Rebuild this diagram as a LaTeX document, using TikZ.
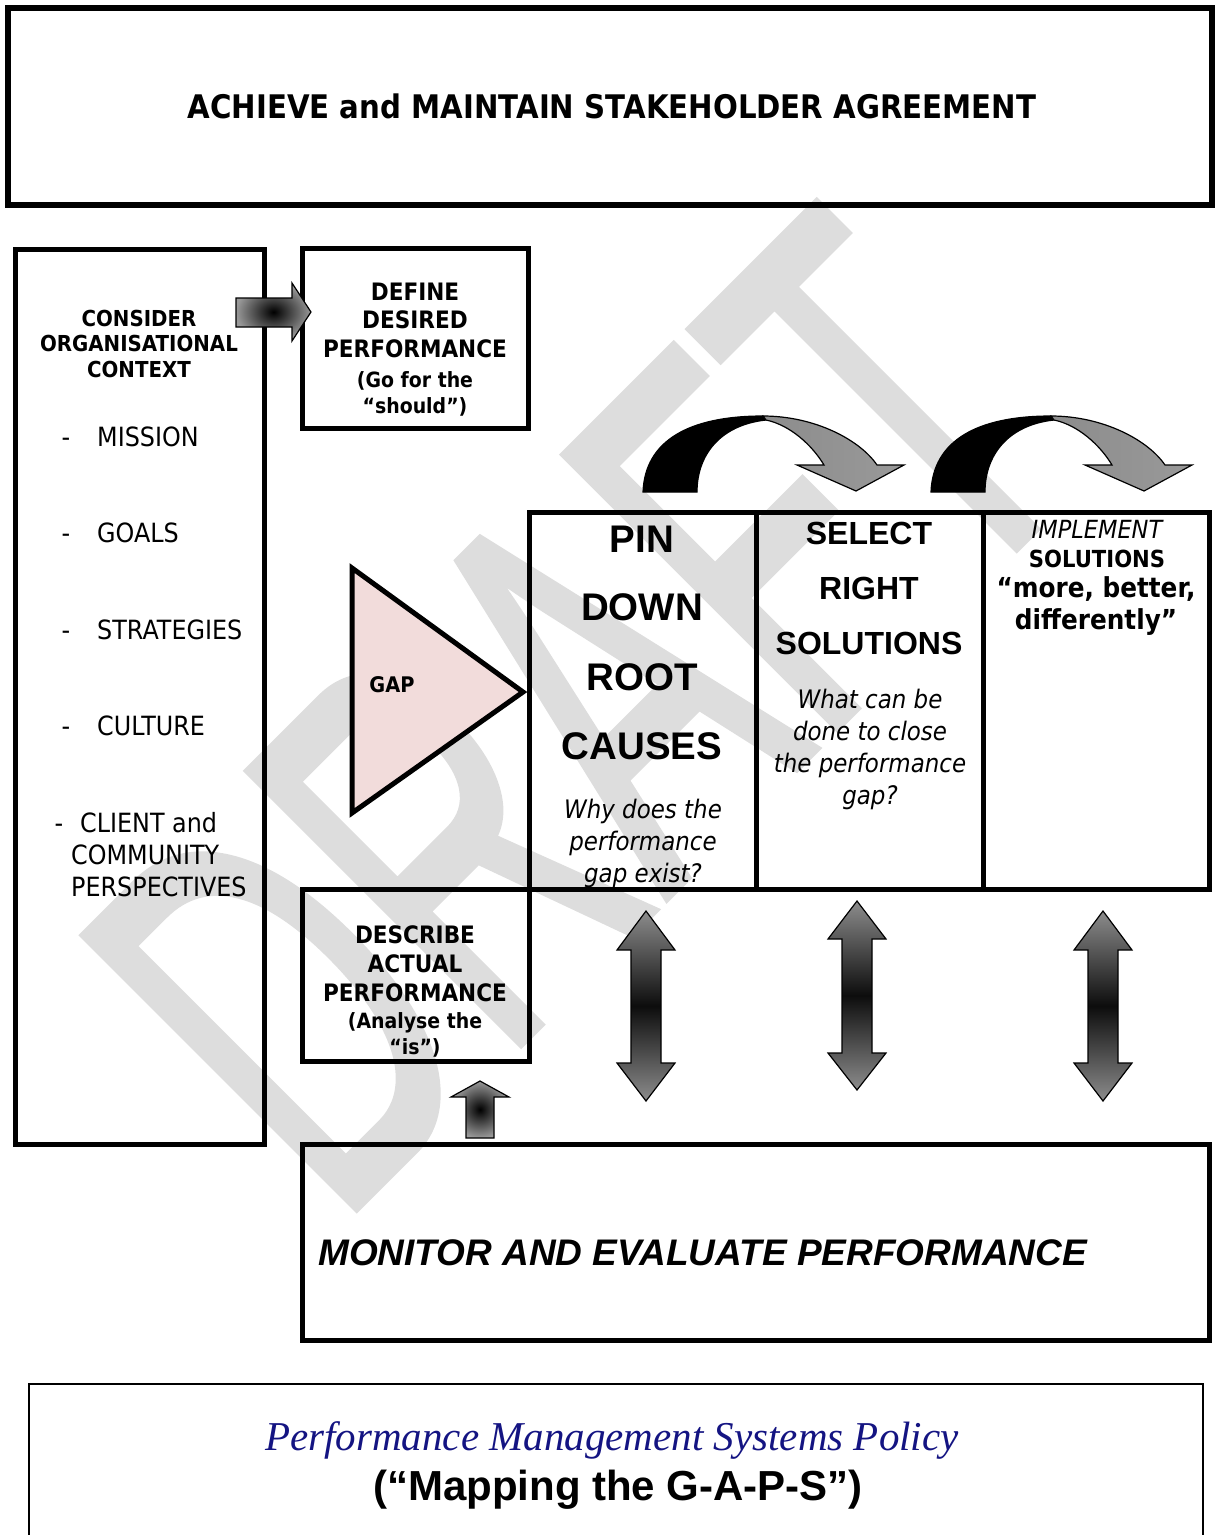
\documentclass[tikz,border=0pt]{standalone}
\usepackage{graphicx}
\usepackage{fontspec}
\usetikzlibrary{fit}
\newfontfamily\tah[FakeStretch=0.9]{DejaVu Sans}
\newfontfamily\ari{Liberation Sans}
\newfontfamily\wmfont[FakeBold=1.5]{Liberation Sans}
\newfontfamily\ser{Liberation Serif}
\definecolor{gappink}{RGB}{242,220,219}
\definecolor{navyt}{RGB}{20,20,130}
\definecolor{wmgray}{RGB}{221,221,221}
\newcommand{\fsz}[2]{\fontsize{#1}{#2}\selectfont}
\newcommand{\dblarrow}[5]{%
  \draw[dshade] (#1,#2) -- (#1+29,#3) -- (#1+15,#3) -- (#1+15,#4) -- (#1+29,#4)
     -- (#1,#5) -- (#1-29,#4) -- (#1-15,#4) -- (#1-15,#3) -- (#1-29,#3) -- cycle;}
\begin{document}
\begin{tikzpicture}[x=1pt,y=-1pt,
  box/.style={draw, line width=5pt, inner sep=0pt, fill=none},
  ln/.style={inner sep=0pt, anchor=base},
  lnw/.style={inner sep=0pt, anchor=base west},
  tb/.style={font=\tah\bfseries\fsz{#1}{#1}},
  tr/.style={font=\tah\fsz{#1}{#1}},
  ti/.style={font=\tah\itshape\fsz{#1}{#1}},
  ab/.style={font=\ari\bfseries\fsz{#1}{#1}},
  dshade/.style={draw=black, line width=1.2pt, top color=black!45, bottom color=black!45, middle color=black!95},
  rshade/.style={draw=black, line width=1.2pt, inner color=black, outer color=black!40},
]
\useasboundingbox (0,0) rectangle (1215,1535);

% watermark
\node[inner sep=0pt, rotate=45, text=wmgray, font=\wmfont\fsz{560}{600}] (wm) at (580,712) {\scalebox{0.575}[1]{DRAFT}};

% boxes
\node[box, line width=5.5pt, fit={(8,8) (1212,205)}] (top) {};
\node[box, fit={(15,249) (264,1144)}] (ctx) {};
\node[box, fit={(302,248) (528,428)}] (def) {};
\node[box, fit={(529.5,512) (756,889.5)}] (pin) {};
\node[box, fit={(756,512) (983,889.5)}] (sel) {};
\node[box, fit={(983,512) (1209.5,889.5)}] (imp) {};
\node[box, fit={(302.5,889.5) (529.5,1061)}] (des) {};
\node[box, fit={(302.5,1144.5) (1209.5,1340)}] (mon) {};
\node[draw, line width=2pt, inner sep=0pt, fit={(29,1384) (1203,1560)}] (pol) {};

% gap triangle
\draw[line width=5pt, fill=gappink, line join=miter] (352,568) coordinate (g1) -- (523,692) coordinate (g2) -- (352,813) coordinate (g3) -- cycle;
\node[ln, tb=21.5] (gap) at (392,692.5) {GAP};

% arrows
\draw[rshade] (236,298) -- (292,298) -- (292,283) -- (311,312) -- (292,341) -- (292,327) -- (236,327) -- cycle;
\draw[rshade] (480,1081) -- (509,1097) -- (494,1097) -- (494,1138) -- (466,1138) -- (466,1097) -- (451,1097) -- cycle;
\dblarrow{646}{911}{950}{1063}{1101}
\dblarrow{857}{901}{939}{1053}{1090}
\dblarrow{1103}{911}{950}{1063}{1101}

\foreach \dx in {0,288}{
  \begin{scope}[xshift=\dx]
    \draw[line width=1.2pt, fill=black] (643,492) .. controls (645,440) and (690,416) .. (763,416)
      -- (766,420) .. controls (720,425) and (697,455) .. (697,492) -- cycle;
    \draw[line width=1.2pt, left color=black!45, middle color=black!85, right color=black!40]
      (763,416) .. controls (815,416) and (860,440) .. (877,465) -- (904,465) -- (856,491)
      -- (797,465) -- (824,465) .. controls (812,445) and (790,425) .. (766,420) -- cycle;
  \end{scope}
}

% title
\node[ln, tb=32.5] (ttl) at (612,118.5) {ACHIEVE and MAINTAIN STAKEHOLDER AGREEMENT};

% context
\node[ln, tb=22] (c1) at (139,326) {CONSIDER};
\node[ln, tb=22] (c2) at (139,351.5) {ORGANISATIONAL};
\node[ln, tb=22] (c3) at (139,377) {CONTEXT};
\node[ln, tr=26.5] (d1) at (66,446.5) {-};
\node[lnw, tr=26.5] (m1) at (97,446.5) {MISSION};
\node[ln, tr=26.5] (d2) at (66,542.5) {-};
\node[lnw, tr=26.5] (m2) at (97,542.5) {GOALS};
\node[ln, tr=26.5] (d3) at (66,639.5) {-};
\node[lnw, tr=26.5] (m3) at (97,639.5) {STRATEGIES};
\node[ln, tr=26.5] (d4) at (66,735.5) {-};
\node[lnw, tr=26.5] (m4) at (97,735.5) {CULTURE};
\node[ln, tr=26.5] (d5) at (59,832.5) {-};
\node[lnw, tr=26.5] (m5) at (80,832.5) {CLIENT and};
\node[lnw, tr=26.5] (m6) at (71,864.5) {COMMUNITY};
\node[lnw, tr=26.5] (m7) at (71,896.5) {PERSPECTIVES};

% define
\node[ln, tb=24] (e1) at (415,300) {DEFINE};
\node[ln, tb=24] (e2) at (415,328.5) {DESIRED};
\node[ln, tb=24] (e3) at (415,357) {PERFORMANCE};
\node[ln, tb=21] (e4) at (415,387) {(Go for the};
\node[ln, tb=21] (e5) at (415,413) {“should”)};

% describe
\node[ln, tb=24] (f1) at (415,943) {DESCRIBE};
\node[ln, tb=24] (f2) at (415,972) {ACTUAL};
\node[ln, tb=24] (f3) at (415,1001.5) {PERFORMANCE};
\node[ln, tb=21] (f4) at (415,1028) {(Analyse the};
\node[ln, tb=21] (f5) at (415,1054) {“is”)};

% pin down
\node[ln, ab=38.5] (p1) at (642,552) {PIN};
\node[ln, ab=38.5] (p2) at (642,620) {DOWN};
\node[ln, ab=38.5] (p3) at (642,690) {ROOT};
\node[ln, ab=38.5] (p4) at (642,759) {CAUSES};
\node[ln, ti=25.5] (p5) at (643,818) {Why does the};
\node[ln, ti=25.5] (p6) at (643,850) {performance};
\node[ln, ti=25.5] (p7) at (643,882) {gap exist?};

% select
\node[ln, ab=32] (s1) at (869,544.5) {SELECT};
\node[ln, ab=32] (s2) at (869,599.5) {RIGHT};
\node[ln, ab=32] (s3) at (869,654.5) {SOLUTIONS};
\node[ln, ti=25.5] (s4) at (870,708) {What can be};
\node[ln, ti=25.5] (s5) at (870,740) {done to close};
\node[ln, ti=25.5] (s6) at (870,772) {the performance};
\node[ln, ti=25.5] (s7) at (870,804) {gap?};

% implement
\node[ln, ti=25] (i1) at (1097,538) {IMPLEMENT};
\node[ln, tb=23.5] (i2) at (1097,567) {SOLUTIONS};
\node[ln, tb=27.5] (i3) at (1096,597) {“more, better,};
\node[ln, tb=27.5] (i4) at (1096,629) {differently”};

% monitor
\node[lnw, font=\ari\bfseries\itshape\fsz{37}{37}] (mt) at (318,1265) {MONITOR AND EVALUATE PERFORMANCE};

% policy
\node[ln, text=navyt, font=\ser\itshape\fsz{41}{41}] (pt1) at (612,1450) {Performance Management Systems Policy};
\node[ln, ab=42] (pt2) at (618,1500) {(“Mapping the G-A-P-S”)};
\end{tikzpicture}
\end{document}
